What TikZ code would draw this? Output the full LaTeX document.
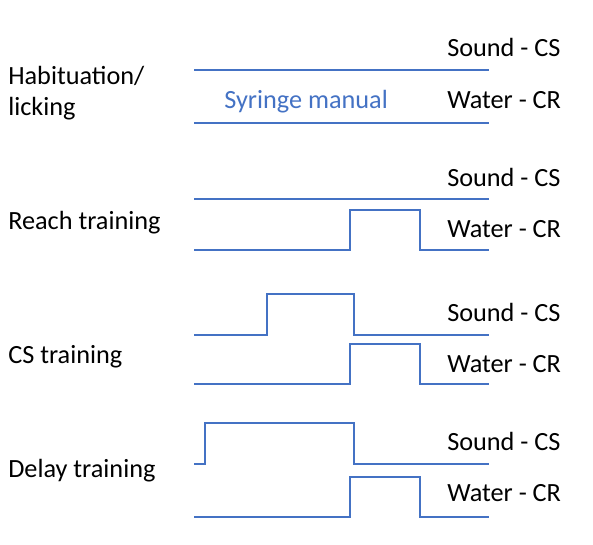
\documentclass[tikz,border=0pt]{standalone}
\usepackage{fontspec}
\setmainfont{Carlito}
\definecolor{trace}{HTML}{4472C4}

\begin{document}
\begin{tikzpicture}[x=0.75pt,y=-0.75pt,line join=miter,
    sig/.style={trace,line width=0.8pt},
    lab/.style={anchor=base west,inner sep=0pt,font=\fontsize{19.7}{23.25}\selectfont}]
  \useasboundingbox (0,0) rectangle (593,544);

  % Habituation / licking
  \node[lab,align=left] (hab) at (8,115) {Habituation/\\licking};
  \draw[sig] (194,70) -- (489,70);
  \draw[sig] (194,123) -- (489,123);
  \node[lab,text=trace] (syr) at (224,108) {Syringe manual};

  % Reach training
  \node[lab] (reach) at (8,229) {Reach training};
  \draw[sig] (194,199) -- (489,199);

  % CS training
  \node[lab] (cstr) at (8,363) {CS training};
  \draw[sig] (194,335) -- (267,335) -- (267,294) -- (354,294) -- (354,335) -- (489,335);

  % Delay training
  \node[lab] (delay) at (8,477) {Delay training};
  \draw[sig] (194,464) -- (205,464) -- (205,423) -- (354,423) -- (354,464) -- (489,464);

  % water pulses, same for the last three
  \foreach \lo in {250,384,517}
    \draw[sig] (194,\lo) -- (350,\lo) -- (350,\lo-40) -- (420,\lo-40) -- (420,\lo) -- (489,\lo);

  % right hand labels
  \foreach \ys/\yw [count=\i] in {56/108,186/237,321/372,450/501} {
    \node[lab] (snd\i) at (447,\ys) {Sound - CS};
    \node[lab] (wat\i) at (447,\yw) {Water - CR};
  }
\end{tikzpicture}
\end{document}
